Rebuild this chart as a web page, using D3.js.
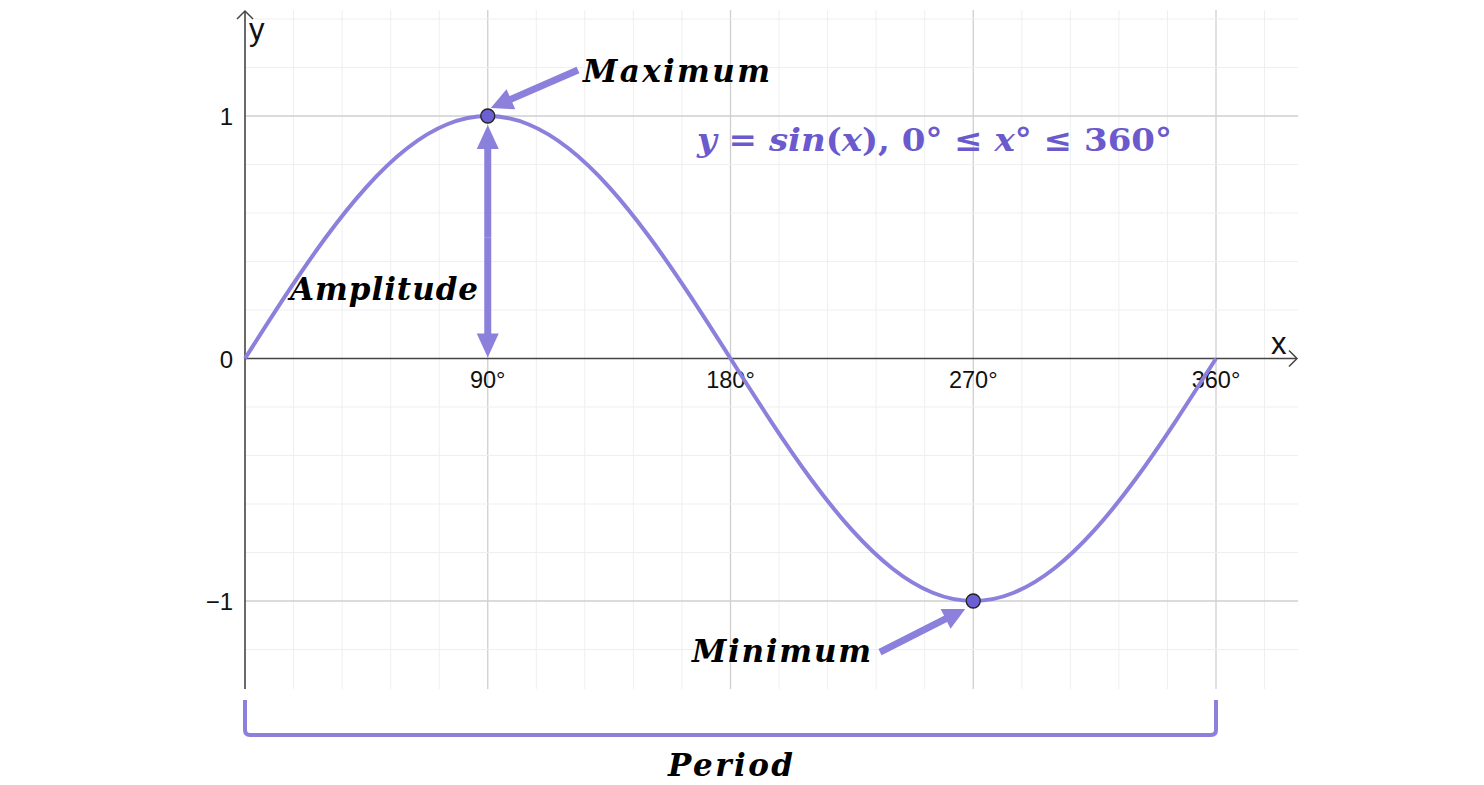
<!DOCTYPE html>
<html>
<head>
<meta charset="utf-8">
<script src="https://cdn.jsdelivr.net/npm/d3@7"></script>
<style>
  html, body { margin: 0; padding: 0; background: #fff; }
  svg { display: block; }
</style>
</head>
<body>
<svg id="chart" width="1484" height="785"></svg>
<script>
// ---- data ----
const xDegrees = [0,15,30,45,60,75,90,105,120,135,150,165,180,195,210,225,240,255,270,285,300,315,330,345,360];
const yValues  = [0,0.259,0.5,0.707,0.866,0.966,1,0.966,0.866,0.707,0.5,0.259,0,-0.259,-0.5,-0.707,-0.866,-0.966,-1,-0.966,-0.866,-0.707,-0.5,-0.259,0];
const xTickValues = [90,180,270,360];
const xTickLabels = ["90°","180°","270°","360°"];
const yTickValues = [1,0,-1];
const yTickLabels = ["1","0","\u22121"];
const extremaX = [90,270];
const extremaY = [1,-1];
const labels = ["Maximum","Amplitude","Minimum","Period"];

const svg = d3.select("#chart");
const x = d3.scaleLinear().domain([0,360]).range([245,1216]);
const y = d3.scaleLinear().domain([-1,1]).range([601,116]);

const gridLeft = 245, gridRight = 1298, gridTop = 10, gridBottom = 689;
const purple = "#8b80dc";

// grid
const minorX = d3.range(18, 380, 18);
const minorY = d3.range(-1.2, 1.45, 0.2).map(v => +v.toFixed(2));
const g = svg.append("g");
g.selectAll(".vx").data(minorX).join("line")
  .attr("x1", d => x(d)).attr("x2", d => x(d))
  .attr("y1", gridTop).attr("y2", gridBottom)
  .attr("stroke", d => (d % 90 === 0) ? "#cfcfcf" : "#efefef")
  .attr("stroke-width", d => (d % 90 === 0) ? 1.3 : 1);
g.selectAll(".hy").data(minorY).join("line")
  .attr("x1", gridLeft).attr("x2", gridRight)
  .attr("y1", d => y(d)).attr("y2", d => y(d))
  .attr("stroke", d => (Math.abs(d) === 1) ? "#cfcfcf" : "#efefef")
  .attr("stroke-width", d => (Math.abs(d) === 1) ? 1.3 : 1);

// axes
const axisColor = "#444";
svg.append("line").attr("x1", x(0)).attr("x2", x(0)).attr("y1", 12).attr("y2", gridBottom)
  .attr("stroke", axisColor).attr("stroke-width", 1.6);
svg.append("path").attr("d", `M${x(0)-8},${19} L${x(0)},${11} L${x(0)+8},${19}`)
  .attr("fill", "none").attr("stroke", axisColor).attr("stroke-width", 1.5);
svg.append("line").attr("x1", x(0)).attr("x2", 1296).attr("y1", y(0)).attr("y2", y(0))
  .attr("stroke", axisColor).attr("stroke-width", 1.6);
svg.append("path").attr("d", `M1289,${y(0)-8} L1297,${y(0)} L1289,${y(0)+8}`)
  .attr("fill", "none").attr("stroke", axisColor).attr("stroke-width", 1.5);

svg.append("text").attr("x", 249).attr("y", 40).text("y")
  .attr("font-family", "Liberation Sans, Arial, sans-serif").attr("font-size", 31).attr("fill", "#111");
svg.append("text").attr("x", 1271).attr("y", 354).text("x")
  .attr("font-family", "Liberation Sans, Arial, sans-serif").attr("font-size", 31).attr("fill", "#111");

// tick labels
svg.selectAll(".xt").data(xTickValues).join("text")
  .attr("x", d => x(d)).attr("y", 388).attr("text-anchor", "middle")
  .attr("font-family", "Liberation Sans, Arial, sans-serif").attr("font-size", 23.5).attr("fill", "#111")
  .text((d, i) => xTickLabels[i]);
svg.selectAll(".yt").data(yTickValues).join("text")
  .attr("x", 233).attr("y", d => y(d) + 9).attr("text-anchor", "end")
  .attr("font-family", "Liberation Sans, Arial, sans-serif").attr("font-size", 24).attr("fill", "#111")
  .text((d, i) => yTickLabels[i]);

// curve
const pts = xDegrees.map((d, i) => [d, yValues[i]]);
svg.append("path").datum(pts)
  .attr("d", d3.line().x(d => x(d[0])).y(d => y(d[1])).curve(d3.curveNatural))
  .attr("fill", "none").attr("stroke", purple).attr("stroke-width", 4);

// arrows helper
function arrow(x1, y1, x2, y2, w, headLen, headW) {
  const dx = x2 - x1, dy = y2 - y1, L = Math.hypot(dx, dy);
  const ux = dx / L, uy = dy / L, nx = -uy, ny = ux;
  const bx = x2 - ux * headLen, by = y2 - uy * headLen;
  svg.append("line").attr("x1", x1).attr("y1", y1).attr("x2", bx + ux).attr("y2", by + uy)
    .attr("stroke", purple).attr("stroke-width", w);
  svg.append("path")
    .attr("d", `M${x2},${y2} L${bx + nx * headW / 2},${by + ny * headW / 2} L${bx - nx * headW / 2},${by - ny * headW / 2} Z`)
    .attr("fill", purple);
}
arrow(578, 70, x(90) + 3, y(1) - 8, 7, 22, 22);
const midY = (y(1) + y(0)) / 2;
arrow(x(90), midY, x(90), y(1) + 9, 7, 24, 22);
arrow(x(90), midY, x(90), y(0) - 1, 7, 24, 22);
arrow(880, 652, x(270) - 8, y(-1) + 8, 7, 22, 22);

// points
svg.selectAll(".pt").data(extremaX).join("circle")
  .attr("cx", d => x(d)).attr("cy", (d, i) => y(extremaY[i])).attr("r", 7)
  .attr("fill", "#6b5fd3").attr("stroke", "#222").attr("stroke-width", 1.3);

// period bracket
svg.append("path")
  .attr("d", `M${x(0)},700 L${x(0)},730 Q${x(0)},735 ${x(0)+5},735 L${x(360)-5},735 Q${x(360)},735 ${x(360)},730 L${x(360)},700`)
  .attr("fill", "none").attr("stroke", purple).attr("stroke-width", 4);

// labels
const labFont = "DejaVu Serif, Liberation Serif, serif";
const labPos = [
  {x: 583, y: 82, w: 187},
  {x: 290, y: 300, w: 188},
  {x: 692, y: 662, w: 179},
  {x: 668, y: 776, w: 125}
];
svg.selectAll(".lab").data(labels).join("text")
  .attr("x", (d, i) => labPos[i].x).attr("y", (d, i) => labPos[i].y)
  .attr("textLength", (d, i) => labPos[i].w).attr("lengthAdjust", "spacing")
  .attr("font-family", labFont).attr("font-weight", "bold").attr("font-style", "italic")
  .attr("font-size", 31).attr("fill", "#000")
  .text(d => d);

// equation
const eq = svg.append("text").attr("x", 697).attr("y", 151)
  .attr("textLength", 475).attr("lengthAdjust", "spacingAndGlyphs")
  .attr("font-family", labFont).attr("font-weight", "bold").attr("font-size", 32).attr("fill", "#6a5acd");
const parts = [
  ["y", true], [" = ", false], ["sin", true], ["(", false], ["x", true], ["),  0° ≤ ", false],
  ["x", true], ["° ≤ 360°", false]
];
parts.forEach(p => eq.append("tspan").attr("font-style", p[1] ? "italic" : "normal").text(p[0]));
</script>
</body>
</html>
